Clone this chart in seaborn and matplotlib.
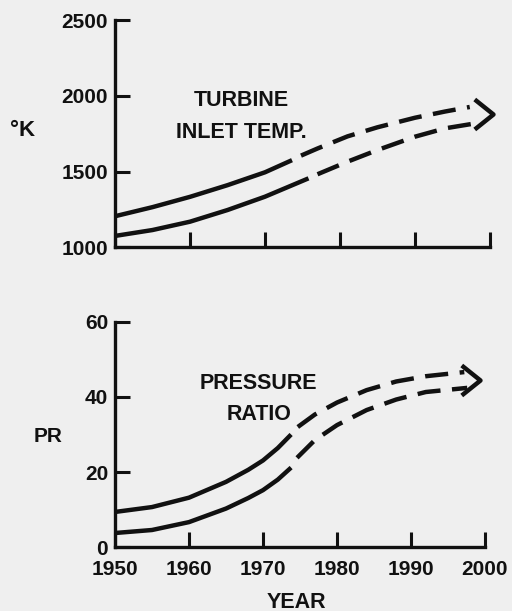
import matplotlib
matplotlib.use("Agg")
import matplotlib.pyplot as plt
import pandas as pd
import seaborn as sns
from matplotlib.path import Path

# ---------------- data ----------------
year_ticks = [1950, 1960, 1970, 1980, 1990, 2000]
tit_ticks = [1000, 1500, 2000, 2500]
pr_ticks = [0, 20, 40, 60]

# Turbine inlet temperature (K): upper and lower band, historical (solid) + projected (dashed)
tit_hi_hist_years = [1950, 1955, 1960, 1965, 1970, 1973.6]
tit_hi_hist = [1205, 1265, 1333, 1410, 1495, 1575]
tit_hi_proj_years = [1974.8, 1977, 1981, 1985, 1990, 1994, 1997.3]
tit_hi_proj = [1605, 1652, 1732, 1792, 1855, 1896, 1926]

tit_lo_hist_years = [1950, 1955, 1960, 1965, 1970, 1975.8]
tit_lo_hist = [1075, 1114, 1169, 1246, 1334, 1455]
tit_lo_proj_years = [1977, 1981, 1985, 1990, 1994, 1997.7]
tit_lo_proj = [1482, 1565, 1642, 1730, 1785, 1815]

tit_arrow_tip = (2000.4, 1880)

# Pressure ratio: upper and lower band
pr_hi_hist_years = [1950, 1955, 1960, 1965, 1968, 1970, 1972, 1973.8]
pr_hi_hist = [9.4, 10.7, 13.2, 17.4, 20.6, 23.1, 26.4, 30.0]
pr_hi_proj_years = [1974.7, 1977, 1980, 1984, 1988, 1992, 1997.2]
pr_hi_proj = [32.0, 35.3, 38.5, 41.8, 44.1, 45.5, 46.6]

pr_lo_hist_years = [1950, 1955, 1960, 1965, 1968, 1970, 1972, 1973.8]
pr_lo_hist = [3.8, 4.6, 6.7, 10.3, 13.1, 15.2, 18.0, 21.2]
pr_lo_proj_years = [1974.6, 1977, 1980, 1984, 1988, 1992, 1997.6]
pr_lo_proj = [23.8, 28.5, 32.5, 36.5, 39.3, 41.3, 42.4]

pr_arrow_tip = (1999.3, 44.5)

# ---------------- style ----------------
INK = "#111111"
BG = "#efefef"
sns.set_style("ticks")
plt.rcParams["font.family"] = ["Liberation Sans", "DejaVu Sans"]
plt.rcParams["font.weight"] = "bold"

fig = plt.figure(figsize=(5.12, 6.11), dpi=100, facecolor=BG)
W, H = 512, 611
ax_top = fig.add_axes([115 / W, 1 - 247.3 / H, 375 / W, 227.3 / H])
ax_bot = fig.add_axes([115 / W, 1 - 547.3 / H, 370 / W, 225.6 / H])

LW = 3.2


def draw_curve(ax, years, vals, dashed):
    df = pd.DataFrame({"year": years, "value": vals})
    kw = dict(color=INK, lw=LW, clip_on=False,
              solid_capstyle="butt", dash_capstyle="butt",
              solid_joinstyle="round")
    if dashed:
        kw["linestyle"] = (0, (5.2, 2.6))
    sns.lineplot(data=df, x="year", y="value", ax=ax, sort=False,
                 estimator=None, **kw)


chevron = Path([(-1.25, 1.0), (0.0, 0.0), (-1.25, -1.0)],
               [Path.MOVETO, Path.LINETO, Path.LINETO])


def draw_tip(ax, tip):
    ax.plot([tip[0]], [tip[1]], marker=chevron, markersize=27,
            markerfacecolor="none", markeredgecolor=INK, markeredgewidth=LW,
            linestyle="none", clip_on=False)


def style_axes(ax, yticks, ylim, show_xlabels):
    ax.set_facecolor("none")
    ax.set_xlim(1950, 2000)
    ax.set_ylim(*ylim)
    ax.set_xticks(year_ticks)
    ax.set_yticks(yticks)
    ax.set_xlabel("")
    ax.set_ylabel("")
    for s in ["top", "right"]:
        ax.spines[s].set_visible(False)
    for s in ["left", "bottom"]:
        ax.spines[s].set_linewidth(2.4)
        ax.spines[s].set_color(INK)
        ax.spines[s].set_capstyle("projecting")
    ax.tick_params(axis="both", direction="in", length=11, width=2.2,
                   color=INK, labelsize=15, labelcolor=INK)
    ax.tick_params(axis="y", pad=5)
    ax.tick_params(axis="x", pad=9, labelbottom=show_xlabels)


# top panel
draw_curve(ax_top, tit_hi_hist_years, tit_hi_hist, False)
draw_curve(ax_top, tit_hi_proj_years, tit_hi_proj, True)
draw_curve(ax_top, tit_lo_hist_years, tit_lo_hist, False)
draw_curve(ax_top, tit_lo_proj_years, tit_lo_proj, True)
draw_tip(ax_top, tit_arrow_tip)
style_axes(ax_top, tit_ticks, (1000, 2500), False)
ax_top.text(1966.9, 1972, "TURBINE", ha="center", va="center",
            fontsize=15.5, color=INK)
ax_top.text(1966.8, 1756, "INLET TEMP.", ha="center", va="center",
            fontsize=15.5, color=INK)

# bottom panel
draw_curve(ax_bot, pr_hi_hist_years, pr_hi_hist, False)
draw_curve(ax_bot, pr_hi_proj_years, pr_hi_proj, True)
draw_curve(ax_bot, pr_lo_hist_years, pr_lo_hist, False)
draw_curve(ax_bot, pr_lo_proj_years, pr_lo_proj, True)
draw_tip(ax_bot, pr_arrow_tip)
style_axes(ax_bot, pr_ticks, (0, 60), True)
ax_bot.text(1969.4, 43.5, "PRESSURE", ha="center", va="center",
            fontsize=15.5, color=INK)
ax_bot.text(1969.5, 35.2, "RATIO", ha="center", va="center",
            fontsize=15.5, color=INK)

# axis titles
fig.text(23 / W, 1 - 131 / H, "°K", ha="center", va="center",
         fontsize=16, color=INK)
fig.text(48 / W, 1 - 437 / H, "PR", ha="center", va="center",
         fontsize=15, color=INK)
fig.text(296 / W, 1 - 602 / H, "YEAR", ha="center", va="center",
         fontsize=15.5, color=INK)

fig.savefig("out.png", dpi=100, facecolor=BG)
